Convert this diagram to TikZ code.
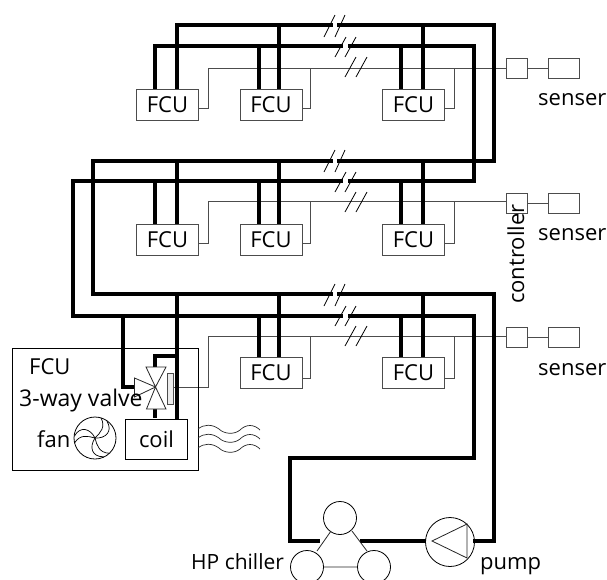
\documentclass[tikz,border=0pt]{standalone}
\usepackage{fontspec}
\setmainfont{Open Sans}
\begin{document}
\begin{tikzpicture}[x=1pt,y=-1pt,
  pipe/.style={line width=3.8pt,black,line join=miter,line cap=butt},
  wire/.style={line width=0.9pt,black!70},
  thinline/.style={line width=0.8pt,black!85},
  slash/.style={line width=0.8pt,black},
  box/.style={draw=black!70,line width=0.9pt,fill=white,inner sep=0pt,anchor=north west},
  fcu/.style={box,minimum width=62pt,minimum height=31pt,font=\fontsize{22}{22}\selectfont},
  ctrl/.style={box,minimum width=21pt,minimum height=20pt},
  sens/.style={box,minimum width=31pt,minimum height=20pt},
  lbl/.style={inner sep=0pt,font=\fontsize{22}{22}\selectfont,anchor=base west}]
\useasboundingbox (0,0) rectangle (607,579);
\clip (0,0) rectangle (607,579);
% FCU nodes
\foreach \r/\y in {1/89,2/224}{
  \node[fcu] (f\r a) at (136,\y) {FCU};
}
\foreach \r/\y in {1/89,2/224,3/357}{
  \node[fcu] (f\r b) at (239.5,\y) {FCU};
  \node[fcu] (f\r c) at (382,\y) {FCU};
}
% controllers and sensors
\foreach \r/\y in {1/58,2/193,3/327}{
  \node[ctrl] (c\r) at (506,\y) {};
  \node[sens] (s\r) at (548,\y) {};
  \draw[wire] (c\r.east) -- (s\r.west);
}
% control wires
\foreach \r/\yt/\yb/\fa in {1/68/108/f1a,2/201/243/f2a}{
  \draw[wire] (\fa.east |- 0,\yb) -- (208,\yb) -- (208,\yt) -- (c\r.west |- 0,\yt);
}
\draw[wire] (173,387) -- (208,387) -- (208,336) -- (c3.west |- 0,336);
\foreach \r/\yt/\yb in {1/68/108,2/201/243,3/336/378}{
  \draw[wire] (f\r b.east |- 0,\yb) -- (310,\yb) -- (310,\yt);
  \draw[wire] (f\r c.east |- 0,\yb) -- (454,\yb) -- (454,\yt);
}
% pipes
\coordinate (tA) at (177,25); \coordinate (tAr) at (494,25);
\coordinate (tB) at (155,46); \coordinate (tBr) at (474,46);
\coordinate (mA) at (93,161); \coordinate (mAr) at (494,161);
\coordinate (mB) at (73,181); \coordinate (mBr) at (474,181);
\coordinate (bA) at (93,294); \coordinate (bAr) at (494,294);
\coordinate (bB) at (73,316); \coordinate (bBr) at (474,316);
\draw[pipe] (tA |- f1a.north) -- (tA) -- (tAr) -- (mAr) -- (mA) -- (bA) -- (bAr) -- (494,541) -- (473,541);
\draw[pipe] (tB |- f1a.north) -- (tB) -- (tBr) -- (mBr) -- (mB) -- (bB) -- (bBr) -- (474,458) -- (290,458) -- (290,541) -- (320,541);
\draw[pipe] (360,541) -- (426,541);
% drops
\foreach \x/\y/\n in {279/25/f1b,259/46/f1b,423/25/f1c,401/46/f1c,
  177/161/f2a,155/181/f2a,279/161/f2b,259/181/f2b,423/161/f2c,401/181/f2c,
  279/294/f3b,259/316/f3b,423/294/f3c,401/316/f3c}{
  \draw[pipe] (\x,\y) -- (\x,\y |- \n.north);
}
% break marks
\foreach \dy in {0,135,269}{
  \begin{scope}[yshift=-\dy pt]
  \draw[white,line width=5pt] (332.5,25) -- (337,25);
  \draw[white,line width=5pt] (342.5,46) -- (348,46);
  \draw[slash] (324,37) -- (335,15) (335,37) -- (345,15);
  \draw[slash] (335,57) -- (346,37) (345,57) -- (356,37);
  \draw[slash] (345,77) -- (356,57) (356,77) -- (367,57);
  \end{scope}
}
% FCU detail
\node[box,draw=black,minimum width=186pt,minimum height=122pt,fill=none] (big) at (12,348) {};
\node[box,draw=black,minimum width=62pt,minimum height=40pt,font=\fontsize{22}{22}\selectfont] (coil) at (125,419) {coil};
\draw[pipe] (177,294) -- (177,419);
\draw[pipe] (123,316) -- (123,387) -- (135,387);
\draw[pipe] (177,356) -- (155,356) -- (155,368);
\draw[pipe] (155,408) -- (155,418);
% valve
\draw[thinline,fill=white] (155.5,387) -- (146,367) -- (166,367) -- cycle;
\draw[thinline,fill=white] (155.5,387) -- (146.5,409) -- (166,409) -- cycle;
\draw[thinline,fill=white] (155.5,387) -- (134.5,378) -- (134.5,397) -- cycle;
\node[box,fill=black!8,minimum width=6pt,minimum height=31pt] (act) at (167,373) {};
\node[lbl] at (29,374) {FCU};
\node[lbl,font=\fontsize{23}{23}\selectfont] at (19,406) {3-way valve};
\node[lbl] at (37,447) {fan};
% fan
\node[circle,draw=black,line width=0.8pt,minimum size=42pt,inner sep=0pt] (fan) at (95,438) {};
\foreach \a in {0,120,240}{
  \draw[line width=0.7pt,rotate around={\a:(95,438)}] (95,438) .. controls (90,428) and (80,426) .. (74.5,436);
  \draw[line width=0.7pt,rotate around={\a:(95,438)}] (95,438) .. controls (88,436) and (80,434) .. (74.5,443);
}
% waves
\foreach \y in {429,438,448}{
  \draw[line width=0.7pt,black!85] (198,\y) .. controls (204,\y-5) and (212,\y-5) .. (219,\y) .. controls (224,\y+5) and (234,\y+6) .. (240,\y+1) .. controls (246,\y-5) and (254,\y-5) .. (260,\y+1);
}
% chiller & pump
\node[circle,draw=black,line width=0.8pt,minimum size=33pt,inner sep=0pt] (ch1) at (340,518) {};
\node[circle,draw=black,line width=0.8pt,minimum size=33pt,inner sep=0pt] (ch2) at (307,567) {};
\node[circle,draw=black,line width=0.8pt,minimum size=33pt,inner sep=0pt] (ch3) at (374,567) {};
\draw[thinline] (331,531) -- (317,551) (352,531) -- (367,551) (ch2.east) -- (ch3.west);
\node[circle,draw=black,line width=0.8pt,minimum size=49pt,inner sep=0pt] (pump) at (450,542) {};
\draw[thinline] (432,541) -- (467,524) -- (467,558) -- cycle;
\node[lbl,font=\fontsize{21}{21}\selectfont] at (191,569) {HP chiller};
\node[lbl] at (480,569) {pump};
\foreach \y in {105,240,375}{ \node[lbl] at (538,\y) {senser}; }
\node[lbl,rotate=90] at (524,304) {controller};
\end{tikzpicture}
\end{document}
